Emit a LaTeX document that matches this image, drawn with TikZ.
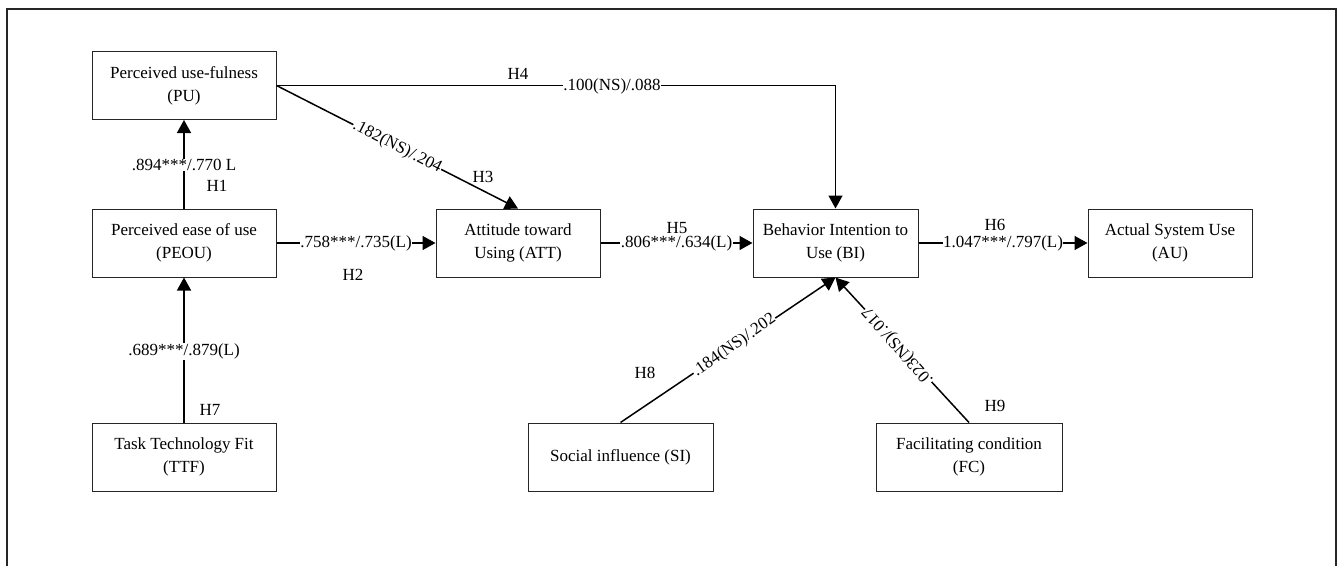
\documentclass[tikz,border=0pt]{standalone}
\usepackage{fontspec}
\setmainfont{Liberation Serif}
\usetikzlibrary{arrows.meta}
\begin{document}
\begin{tikzpicture}[x=1pt,y=-1pt,
  box/.style={draw=black!85,line width=1pt,minimum height=68pt,align=center,inner sep=2pt,
    font=\fontsize{17}{23}\selectfont},
  conn/.style={line width=1.5pt,-{Triangle[length=13pt,width=14pt]}},
  lab/.style={fill=white,inner sep=0.5pt,font=\fontsize{17}{19}\selectfont},
  hlab/.style={inner sep=1pt,font=\fontsize{17}{19}\selectfont}]
\useasboundingbox (0,0) rectangle (1338,565);
% frame
\draw[line width=1.3pt,black!85] (7,566) coordinate (fbl) -- (7,9) coordinate (ftl) -- (1336,9) coordinate (ftr) -- (1336,566) coordinate (fbr);
% boxes
\node[box,minimum width=184pt] (PU) at (184,85.5) {Perceived use-fulness\\(PU)};
\node[box,minimum width=184pt] (PEOU) at (184,243) {Perceived ease of use\\(PEOU)};
\node[box,minimum width=184pt] (TTF) at (184,457) {Task Technology Fit\\(TTF)};
\node[box,minimum width=164pt] (ATT) at (518,243) {Attitude toward\\Using (ATT)};
\node[box,minimum width=165pt] (BI) at (835.5,243) {Behavior Intention to\\Use (BI)};
\node[box,minimum width=164pt] (AU) at (1170,243) {Actual System Use\\(AU)};
\node[box,minimum width=185pt] (SI) at (620.5,457) {Social influence (SI)};
\node[box,minimum width=186pt] (FC) at (969,457) {Facilitating condition\\(FC)};
% connectors
\draw[conn] (PEOU.north) -- node[lab,pos=0.49] {.894***/.770 L} (PU.south);
\node[hlab] (h1) at (217,186) {H1};
\draw[conn] (TTF.north) -- node[lab,pos=0.49] {.689***/.879(L)} (PEOU.south);
\node[hlab] (h7) at (210,410) {H7};
\draw[conn] (PEOU.east) -- node[lab,pos=0.5] {.758***/.735(L)} (ATT.west);
\node[hlab] (h2) at (353,275) {H2};
\draw[conn] (PU.east) -- node[lab,sloped,pos=0.5] {.182(NS)/.204} (ATT.north);
\node[hlab] (h3) at (483,177) {H3};
\draw[conn] (PU.east) -- (BI.north |- PU.east) coordinate (c4) -- (BI.north);
\node[lab] (l4) at (612,86) {.100(NS)/.088};
\node[hlab] (h4) at (518,74) {H4};
\draw[conn] (ATT.east) -- node[lab,pos=0.5] {.806***/.634(L)} (BI.west);
\node[hlab] (h5) at (677,228) {H5};
\draw[conn] (BI.east) -- node[lab,pos=0.5] {1.047***/.797(L)} (AU.west);
\node[hlab] (h6) at (995,225) {H6};
\draw[conn] (SI.north) -- node[lab,pos=0.53,rotate=35.07] {.184(NS)/.202} (BI.south);
\node[hlab] (h8) at (645,373) {H8};
\draw[conn] (FC.north) -- node[lab,pos=0.53,rotate=131.5] {.023(NS)/.017} (BI.south);
\node[hlab] (h9) at (995,406) {H9};
\end{tikzpicture}
\end{document}
